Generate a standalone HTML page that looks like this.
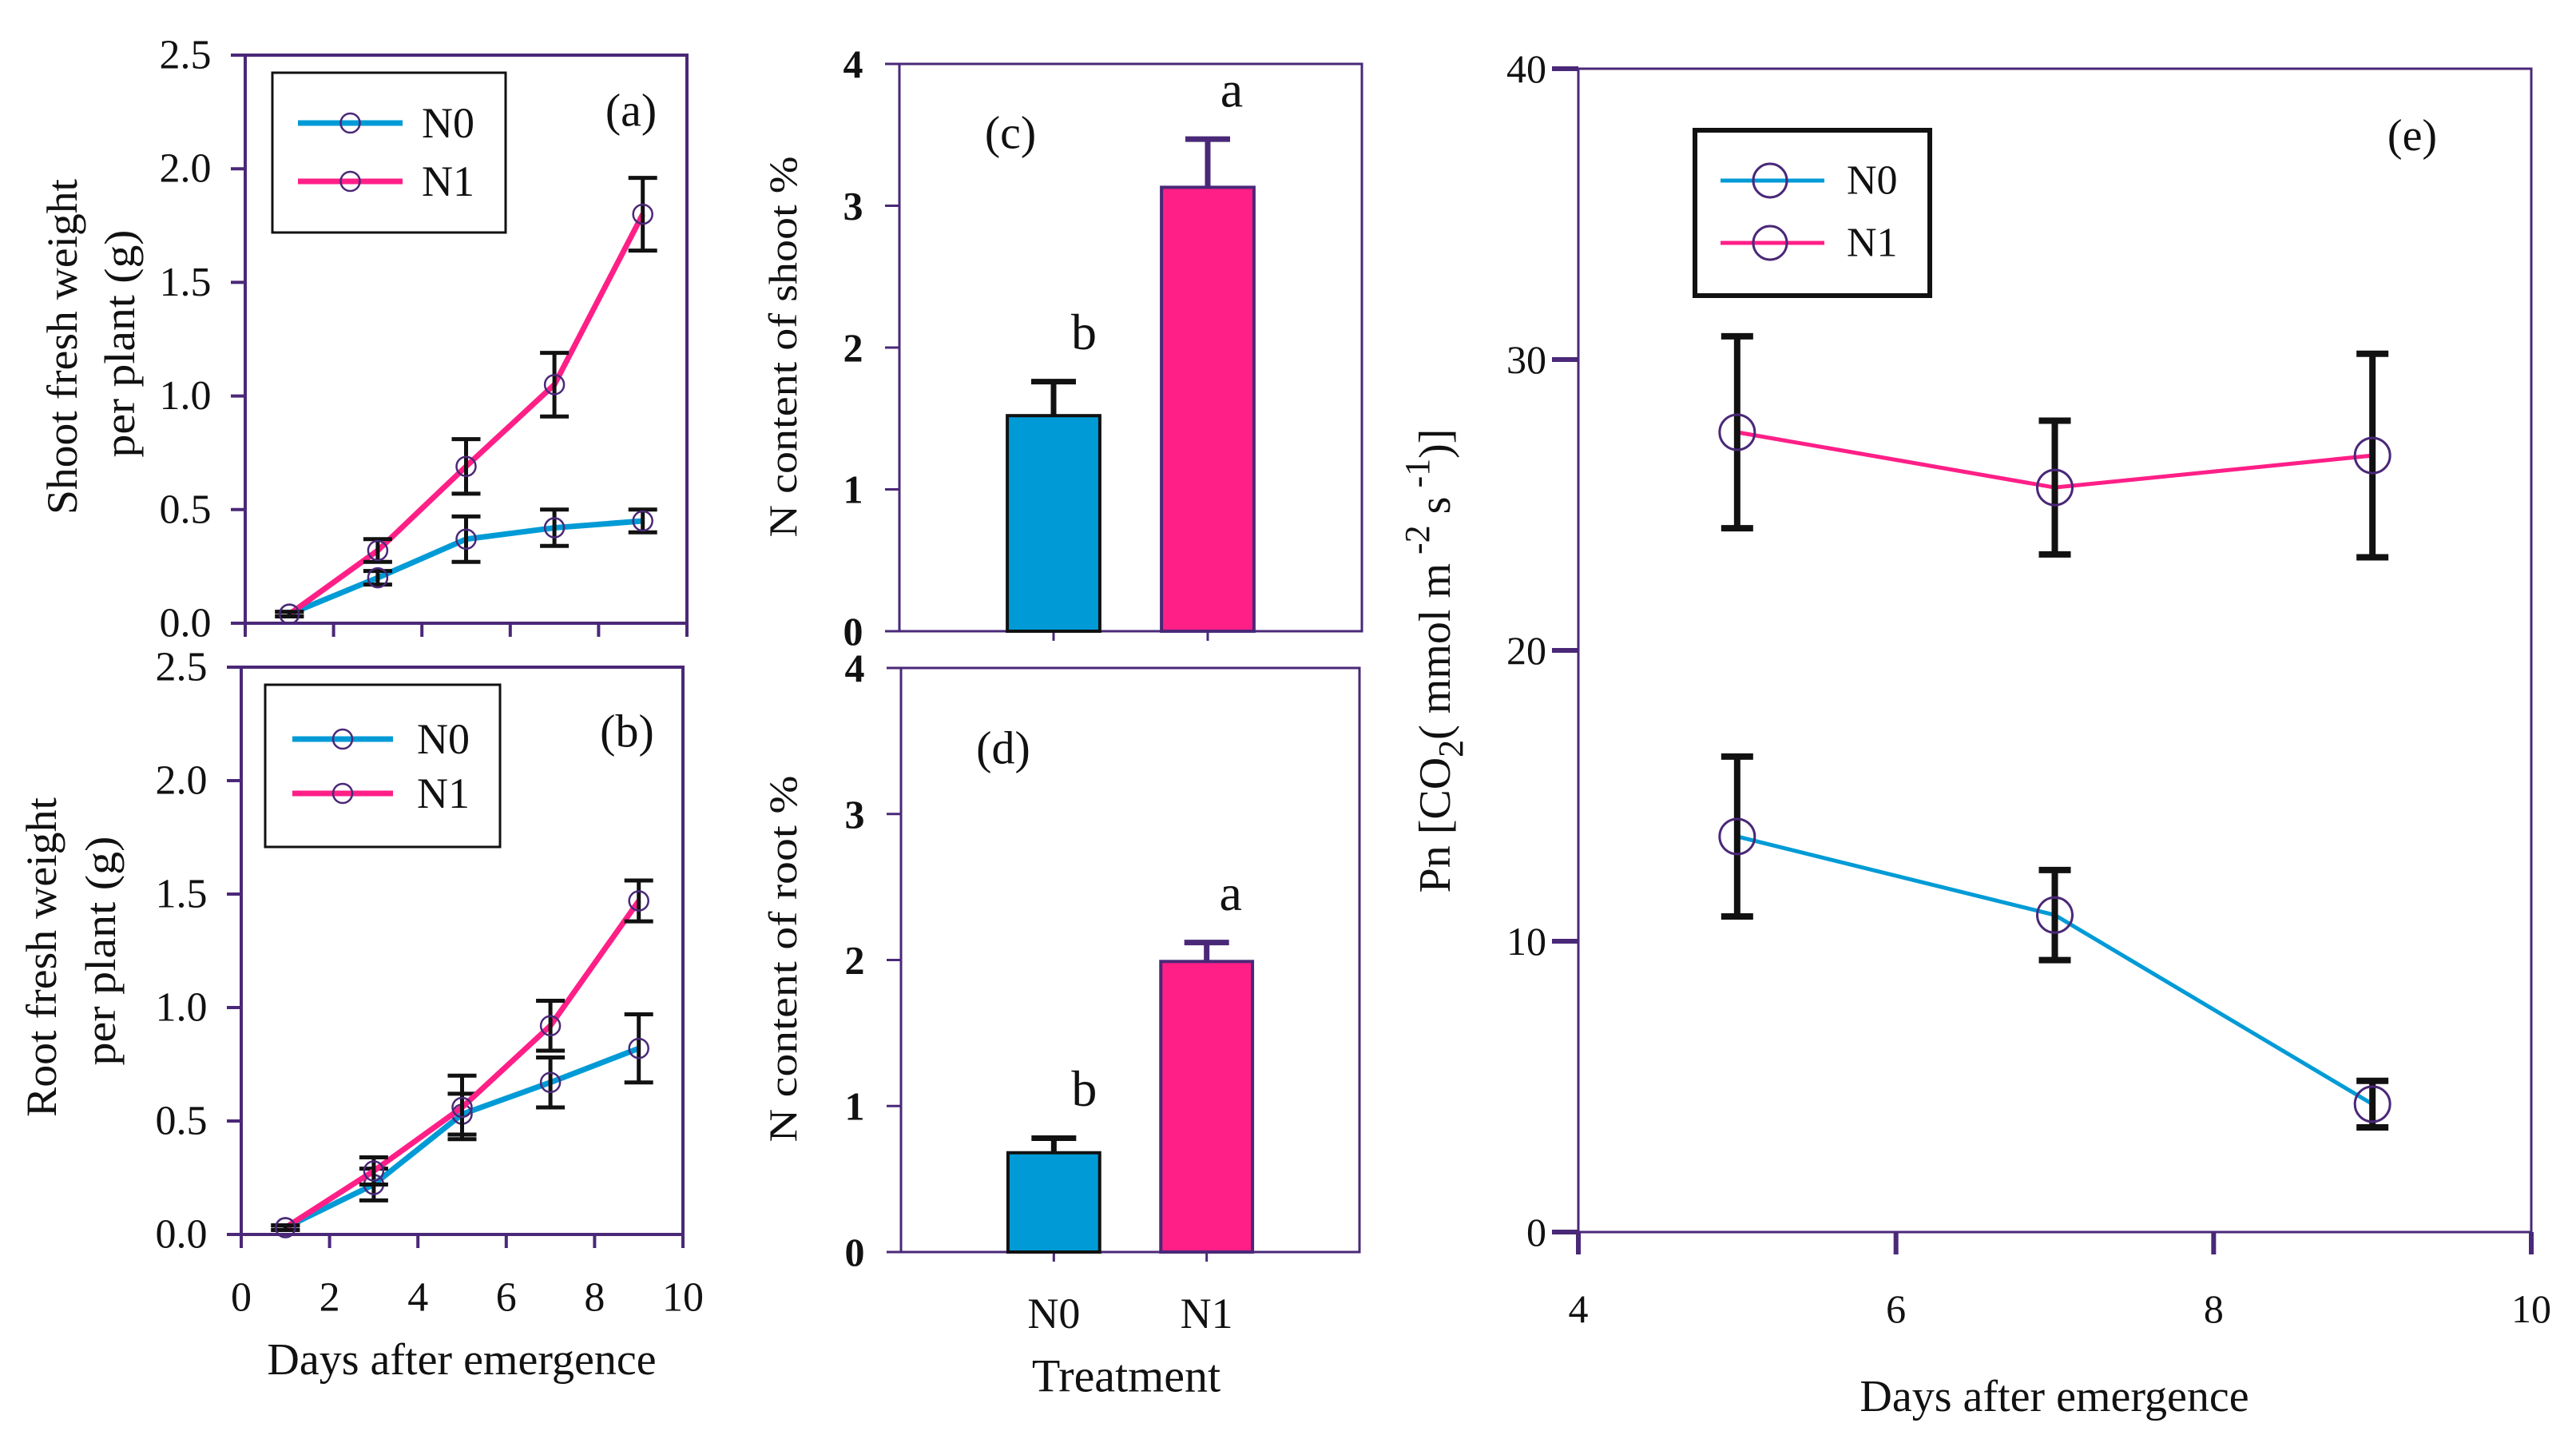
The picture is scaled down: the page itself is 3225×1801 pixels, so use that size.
<!DOCTYPE html>
<html><head><meta charset="utf-8"><style>
html,body{margin:0;padding:0;background:#fff}
svg{display:block;font-family:"Liberation Serif",serif}
</style></head><body>
<svg id="fig" width="3225" height="1801" viewBox="0 0 3225 1801" xmlns="http://www.w3.org/2000/svg" font-family="Liberation Serif, serif">
<rect x="0" y="0" width="3225" height="1801" fill="#fff"/>
</svg>
<script>
const days = [1, 3, 5, 7, 9];
const shootN0 = [0.04, 0.20, 0.37, 0.42, 0.45];
const shootN0Err = [0.01, 0.03, 0.10, 0.08, 0.05];
const shootN1 = [0.04, 0.32, 0.69, 1.05, 1.80];
const shootN1Err = [0.01, 0.05, 0.12, 0.14, 0.16];
const rootN0 = [0.03, 0.22, 0.53, 0.67, 0.82];
const rootN0Err = [0.01, 0.07, 0.09, 0.11, 0.15];
const rootN1 = [0.03, 0.28, 0.56, 0.92, 1.47];
const rootN1Err = [0.01, 0.06, 0.14, 0.11, 0.09];
const weightTicks = ["0.0", "0.5", "1.0", "1.5", "2.0", "2.5"];
const dayTicks = ["0", "2", "4", "6", "8", "10"];
const treatments = ["N0", "N1"];
const shootN = [1.52, 3.13];
const shootNErr = [0.24, 0.34];
const shootLetters = ["b", "a"];
const rootN = [0.68, 1.99];
const rootNErr = [0.10, 0.13];
const rootLetters = ["b", "a"];
const nTicks = ["0", "1", "2", "3", "4"];
const pnDays = [5, 7, 9];
const pnN0 = [13.6, 10.9, 4.4];
const pnN0Err = [2.75, 1.55, 0.8];
const pnN1 = [27.5, 25.6, 26.7];
const pnN1Err = [3.3, 2.3, 3.5];
const pnYTicks = ["0", "10", "20", "30", "40"];
const pnXTicks = ["4", "6", "8", "10"];

const NS = "http://www.w3.org/2000/svg";
const svg = document.getElementById("fig");
const AX = "#4a2878", BLUE = "#009bd6", PINK = "#ff1f87";
function mk(tag, attrs, parent) {
  const e = document.createElementNS(NS, tag);
  for (const k in attrs) e.setAttribute(k, attrs[k]);
  (parent || svg).appendChild(e);
  return e;
}
function txt(s, x, y, size, parent, extra) {
  const t = mk("text", Object.assign({x: x, y: y, "font-size": size, fill: "#111", "text-anchor": "middle", "dominant-baseline": "central"}, extra || {}), parent);
  t.textContent = s;
  return t;
}
function scale(d0, d1, r0, r1) { return v => r0 + (v - d0) / (d1 - d0) * (r1 - r0); }

function linePanel(name, box, yMax, nYT, s0, e0, s1, e1, showXLabels, leg, tag) {
  const g = mk("g", {});
  
  
  const X = scale(0, 10, box.l, box.r), Y = scale(0, yMax, box.b, box.t);
  const frame = mk("rect", {x: box.l, y: box.t, width: box.r - box.l, height: box.b - box.t, fill: "none", stroke: AX, "stroke-width": 4}, g);
  
  
  for (let i = 0; i < nYT.length; i++) {
    const v = i * yMax / (nYT.length - 1);
    mk("line", {x1: box.l - 18, x2: box.l, y1: Y(v), y2: Y(v), stroke: AX, "stroke-width": 4}, g);
    const t = txt(nYT[i], box.l - 75, Y(v), 52, g);
    
    
  }
  for (let i = 0; i < dayTicks.length; i++) {
    const v = +dayTicks[i];
    mk("line", {x1: X(v), x2: X(v), y1: box.b, y2: box.b + 17, stroke: AX, "stroke-width": 4}, g);
    if (showXLabels) {
      const t = txt(dayTicks[i], X(v), 1624, 52, g);
      
      
    }
  }
  [[s0, e0, BLUE, "series-n0"], [s1, e1, PINK, "series-n1"]].forEach(([s, e, c, nm]) => {
    const pts = days.map((d, i) => X(d) + "," + Y(s[i])).join(" ");
    const pl = mk("polyline", {points: pts, fill: "none", stroke: c, "stroke-width": 7}, g);
    
    
    days.forEach((d, i) => {
      const x = X(d), lo = Y(s[i] - e[i]), hi = Y(s[i] + e[i]);
      const eb = mk("path", {d: `M${x},${lo}V${hi}M${x-18},${lo}H${x+18}M${x-18},${hi}H${x+18}`, stroke: "#111", "stroke-width": 5, fill: "none"}, g);
      
      
      const m = mk("circle", {cx: x, cy: Y(s[i]), r: 12, fill: "none", stroke: AX, "stroke-width": 2.5}, g);
      
      
    });
  });
  const lg = mk("g", {}, g);
  
  
  mk("rect", {x: leg.x, y: leg.y, width: leg.w, height: leg.h, fill: "#fff", stroke: "#111", "stroke-width": 3}, lg);
  [[BLUE, "N0", leg.y1], [PINK, "N1", leg.y2]].forEach(([c, s, yy]) => {
    mk("line", {x1: leg.lx1, x2: leg.lx2, y1: yy, y2: yy, stroke: c, "stroke-width": 7}, lg);
    mk("circle", {cx: (leg.lx1 + leg.lx2) / 2, cy: yy, r: 12, fill: "none", stroke: AX, "stroke-width": 2.5}, lg);
    txt(s, leg.tx, yy, 54, lg, {"text-anchor": "start"});
  });
  const pl = txt(tag, box.r - 70, leg.tagY, 58, g);
  
  
}

linePanel("panel-a-shoot-weight", {l: 307, r: 860, t: 69, b: 780}, 2.5, weightTicks, shootN0, shootN0Err, shootN1, shootN1Err, false,
  {x: 341, y: 91, w: 292, h: 200, lx1: 373, lx2: 504, y1: 154, y2: 227, tx: 528, tagY: 138}, "(a)");
linePanel("panel-b-root-weight", {l: 302, r: 855, t: 835, b: 1545}, 2.5, weightTicks, rootN0, rootN0Err, rootN1, rootN1Err, true,
  {x: 332, y: 857, w: 294, h: 203, lx1: 366, lx2: 492, y1: 925, y2: 993, tx: 522, tagY: 915}, "(b)");

function rot(s, x, y, size, len, name) {
  const t = txt(s, 0, 0, size, svg, {transform: `translate(${x},${y}) rotate(-90)`, textLength: len, lengthAdjust: "spacingAndGlyphs"});
  
  
}
rot("Shoot fresh weight", 78, 434, 54, 420, "y-axis-title-a-line1");
rot("per plant  (g)", 150, 430, 54, 285, "y-axis-title-a-line2");
rot("Root fresh weight", 52, 1198, 54, 400, "y-axis-title-b-line1");
rot("per plant  (g)", 126, 1190, 54, 287, "y-axis-title-b-line2");
let t1 = txt("Days after emergence", 578, 1702, 56);



function barPanel(name, box, vals, errs, letters, tag, tagPos, showX) {
  const g = mk("g", {});
  
  
  const X = scale(0, 3, box.l, box.r), Y = scale(0, 4, box.b, box.t);
  mk("rect", {x: box.l, y: box.t, width: box.r - box.l, height: box.b - box.t, fill: "none", stroke: AX, "stroke-width": 3}, g);
  nTicks.forEach((s, i) => {
    mk("line", {x1: box.l - 18, x2: box.l, y1: Y(+s), y2: Y(+s), stroke: AX, "stroke-width": 3}, g);
    const t = txt(s, box.l - 58, Y(+s), 50, g, {"font-weight": "bold"});
    
    
  });
  treatments.forEach((s, i) => {
    const cx = X(i + 1), w = X(0.6) - X(0);
    mk("line", {x1: cx, x2: cx, y1: box.b, y2: box.b + 12, stroke: AX, "stroke-width": 3}, g);
    const eb = mk("path", {d: `M${cx},${Y(vals[i])}V${Y(vals[i] + errs[i])}M${cx - 28},${Y(vals[i] + errs[i])}H${cx + 28}`, stroke: i ? AX : "#111", "stroke-width": 7, fill: "none"}, g);
    
    
    const b = mk("rect", {x: cx - w / 2, y: Y(vals[i]), width: w, height: Y(0) - Y(vals[i]), fill: i ? PINK : BLUE, stroke: i ? AX : "#111", "stroke-width": 4}, g);
    
    
    const l = txt(letters[i], cx + (i ? 30 : 38), Y(vals[i] + errs[i]) - 62, 64, g);
    
    
    if (showX) {
      const t = txt(s, cx, 1644, 54, g);
      
      
    }
  });
  const p = txt(tag, tagPos[0], tagPos[1], 58, g);
  
  
}
barPanel("panel-c-shoot-n", {l: 1126, r: 1705, t: 80, b: 790}, shootN, shootNErr, shootLetters, "(c)", [1265, 166], false);
barPanel("panel-d-root-n", {l: 1128, r: 1702, t: 836, b: 1567}, rootN, rootNErr, rootLetters, "(d)", [1256, 936], true);
rot("N content of shoot %", 980, 434, 50, 477, "y-axis-title-c");
rot("N content of root %", 980, 1200, 50, 459, "y-axis-title-d");
let t2 = txt("Treatment", 1410, 1722, 58);



(function () {
  const g = mk("g", {});
  
  
  const box = {l: 1976, r: 3169, t: 86, b: 1542};
  const X = scale(4, 10, box.l, box.r), Y = scale(0, 40, box.b, box.t);
  mk("rect", {x: box.l, y: box.t, width: box.r - box.l, height: box.b - box.t, fill: "none", stroke: AX, "stroke-width": 3}, g);
  pnYTicks.forEach(s => {
    mk("line", {x1: box.l - 33, x2: box.l, y1: Y(+s), y2: Y(+s), stroke: AX, "stroke-width": 6}, g);
    const t = txt(s, box.l - 40, Y(+s), 50, g, {"text-anchor": "end"});
    
    
  });
  pnXTicks.forEach(s => {
    mk("line", {x1: X(+s), x2: X(+s), y1: box.b, y2: box.b + 28, stroke: AX, "stroke-width": 6}, g);
    const t = txt(s, X(+s), 1638, 50, g);
    
    
  });
  [[pnN0, pnN0Err, BLUE, "series-n0"], [pnN1, pnN1Err, PINK, "series-n1"]].forEach(([s, e, c, nm]) => {
    const pl = mk("polyline", {points: pnDays.map((d, i) => X(d) + "," + Y(s[i])).join(" "), fill: "none", stroke: c, "stroke-width": 5}, g);
    
    
    pnDays.forEach((d, i) => {
      const x = X(d), lo = Y(s[i] - e[i]), hi = Y(s[i] + e[i]);
      const eb = mk("path", {d: `M${x},${lo}V${hi}M${x-20},${lo}H${x+20}M${x-20},${hi}H${x+20}`, stroke: "#111", "stroke-width": 8, fill: "none"}, g);
      
      
      const m = mk("circle", {cx: x, cy: Y(s[i]), r: 22, fill: "none", stroke: AX, "stroke-width": 3}, g);
      
      
    });
  });
  const lg = mk("g", {}, g);
  
  
  mk("rect", {x: 2122, y: 163, width: 294, height: 207, fill: "#fff", stroke: "#111", "stroke-width": 6}, lg);
  [[BLUE, "N0", 226], [PINK, "N1", 304]].forEach(([c, s, yy]) => {
    mk("line", {x1: 2154, x2: 2284, y1: yy, y2: yy, stroke: c, "stroke-width": 5}, lg);
    mk("circle", {cx: 2216, cy: yy, r: 21, fill: "none", stroke: AX, "stroke-width": 3}, lg);
    txt(s, 2312, yy, 52, lg, {"text-anchor": "start"});
  });
  const p = txt("(e)", 3020, 170, 56, g);
  
  
  const xt = txt("Days after emergence", 2572, 1748, 56, g);
  
  
})();
</script>
<svg style="position:absolute;left:0;top:0" width="3225" height="1801">
<text transform="translate(1815,827) rotate(-90)" text-anchor="middle" font-family="Liberation Serif, serif" font-size="56" fill="#111">Pn [CO<tspan font-size="44" dy="16">2</tspan><tspan dy="-16">( mmol m</tspan><tspan font-size="44" dy="-26"> -2</tspan><tspan dy="26"> s</tspan><tspan font-size="44" dy="-26"> -1</tspan><tspan dy="26">)]</tspan></text>
</svg>
</body></html>
